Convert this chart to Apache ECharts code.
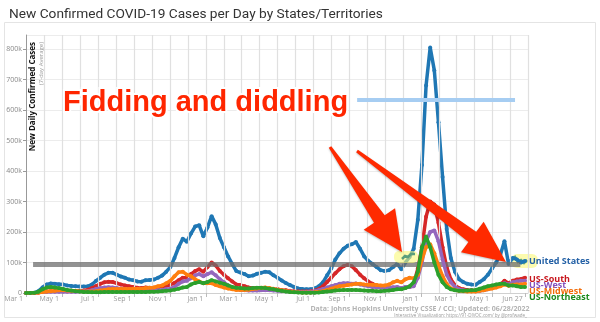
<!DOCTYPE html>
<html><head><meta charset="utf-8">
<script src="https://cdn.jsdelivr.net/npm/echarts@6/dist/echarts.min.js"></script>
<style>html,body{margin:0;padding:0;background:#fff}#c{width:600px;height:322px}</style>
</head><body><div id="c"></div>
<script>
// Weekly points starting Sunday Mar 1 2020 (7-day average, thousands of cases)
const firstWeek = '2020-03-01';
const axisStart = '2020-03-01';
const axisEnd = '2022-07-01';
const tickDates = ['2020-03-01','2020-05-01','2020-07-01','2020-09-01','2020-11-01','2021-01-01','2021-03-01','2021-05-01','2021-07-01','2021-09-01','2021-11-01','2022-01-01','2022-03-01','2022-05-01','2022-06-27'];
const tickLabels = ['Mar 1','May 1','Jul 1','Sep 1','Nov 1','Jan 1','Mar 1','May 1','Jul 1','Sep 1','Nov 1','Jan 1','Mar 1','May 1','Jun 27'];
const seriesNames = ['United States','US-South','US-West','US-Midwest','US-Northeast'];

const usValues = [
  0,0.1,0.6,6,18, 28,31,30,29, 28,25,23,22,21, 21,22,28,40, 50,60,66,66, 60,54,50,44,42, 38,37,42,43, 44,50,57,70, 85,115,150,178,168, 195,218,222,186,
  215,252,225,180,150, 120,95,72,67, 62,55,57,63, 66,70,68,58, 50,41,33,26,20, 15,13,12,12.5, 15,22,35,58, 80,110,130,145,155, 160,167,145,120, 105,95,85,75,72, 75,85,95,78, 100,118,145,240,
  420,680,805,730,560, 380,210,115,70, 45,36,30,28, 27,36,45,60, 80,100,125,170,95, 115,110,100,105
];
const southValues = [
  0,0,0.2,1.5,4, 5,6,6,6, 6,6,6,6.5,7, 8,11,16,23, 30,35,37,36, 32,28,25,22,20, 17,16,18,17, 17,19,21,24, 27,33,42,50,50, 62,72,78,70,
  85,100,90,72,60, 48,38,28,26, 22,18,16,16, 16,16,15,13, 12,10,9,7,5.5, 5,5,5,6, 8,13,22,36, 50,65,78,88,92, 88,75,60,48, 38,30,25,20,17, 15,15,16,14, 18,20,30,80,
  150,250,300,290,230, 150,85,45,26, 16,12,10,9, 8,9,11,15, 18,22,28,40,32, 40,44,46,50
];
const westValues = [
  0,0.05,0.3,1.5,3, 4,4,4,4, 4,4,4,4.5,5, 5.5,6.5,9,13, 16,18,19,18, 16,14,12,10,9, 8,8,8,8, 8,9,10,12, 14,20,30,38,40, 48,58,62,55,
  62,68,58,45,35, 25,18,12,10, 9,8,8,8, 9,9,9,8, 7,6,6,5,4, 3.5,3.5,4,5, 6,9,13,18, 22,26,30,32,32, 30,31,28,25, 22,20,19,18,17, 17,19,20,16, 20,20,22,50,
  100,170,200,205,170, 110,60,35,20, 12,9,7,6, 6,7,9,12, 16,20,25,32,28, 35,38,40,40
];
const midwestValues = [
  0,0,0.1,1,3, 5,6,7,9, 9,8,7,7,6, 5,5,5,6, 8,10,12,13, 13,13,13,13,14, 14,14,16,17, 18,22,25,32, 40,55,68,70,60, 55,45,38,32,
  32,32,26,22,18, 15,12,10,10, 10,11,13,15, 17,18,16,14, 11,9,7,5,3.5, 2.5,2,2,2, 2.5,4,6,10, 14,18,22,24,26, 28,30,30,28, 27,27,26,25,25, 28,35,40,35, 45,50,48,60,
  110,150,160,130,90, 55,30,15,10, 7,6,5,5, 5,7,9,12, 15,18,22,28,24, 27,28,28,30
];
const northeastValues = [
  0,0.1,0.5,4,12, 18,20,18,16, 13,10,8,6,5, 3.5,3,2.5,2.5, 2.5,3,3,3, 3,3,3,3,3, 3,3,3.5,4, 4.5,5,6,7, 8,11,14,18,20, 28,33,36,32,
  36,42,38,34,30, 25,20,17,16, 15,15,16,17, 17,16,14,12, 9,7,5,3.5,2.5, 1.5,1,1,1, 1.2,2,3,5, 6,8,9,10,10, 10,10,9,8, 7,7,6,6,7, 8,10,12,12, 16,22,35,70,
  150,185,150,100,60, 35,20,12,9, 7,7,8,9, 10,14,18,22, 25,28,30,30,25, 25,22,20,20
];

function ts(s){const p=s.split('-').map(Number);return new Date(p[0],p[1]-1,p[2]).getTime();}
const f0 = firstWeek.split('-').map(Number);
const weekDates = usValues.map((_,i)=>new Date(f0[0],f0[1]-1,f0[2]+7*i).getTime());
const pairs = vals => vals.map((v,i)=>[weekDates[i], v]);
const tickTs = tickDates.map(ts);
const labelMap = {}; tickTs.forEach((t,i)=>labelMap[t]=tickLabels[i]);
const monthLines = [];
for (let k=1;k<=28;k++) monthLines.push({xAxis:new Date(2020,2+k,1).getTime()});

const colors = ['#1f77b4','#d62728','#9467bd','#ff7f0e','#2ca02c'];
const labelColors = ['#2461a6','#c8171e','#8551bd','#f26d0a','#1d8a1d'];
const labelOffsets = [0,2,5,8,11];
const allValues = [usValues, southValues, westValues, midwestValues, northeastValues];

const chart = echarts.init(document.getElementById('c'));
const series = [{
  type:'line', data:[], silent:true, z:1,
  markLine:{silent:true, symbol:'none', label:{show:false}, animation:false,
    lineStyle:{color:'#e0e0e0', width:1.2, type:'solid'}, data: monthLines}
}];
allValues.forEach((vals,i)=>{
  series.push({
    name: seriesNames[i], type:'line', data: pairs(vals), z: 3+i,
    showSymbol:true, symbol:'circle', symbolSize:4,
    lineStyle:{color:colors[i], width:3.5}, itemStyle:{color:colors[i]},
    endLabel:{show:true, formatter:seriesNames[i], color:labelColors[i], fontSize:9, fontWeight:'bold',
      fontFamily:'Open Sans', distance:4, offset:[0,labelOffsets[i]]},
    emphasis:{disabled:true}
  });
});
series.push({
  type:'line', data:[], silent:true, z:20,
  markLine:{silent:true, symbol:'none', label:{show:false}, animation:false,
    data:[
      [{coord:[ts('2020-03-13'),93], lineStyle:{color:'rgba(110,110,110,0.75)', width:5, type:'solid'}},{coord:[ts('2022-06-18'),93]}],
      [{coord:[ts('2021-09-14'),633], lineStyle:{color:'#a6cdf2', width:4, type:'solid'}},{coord:[ts('2022-06-09'),633]}]
    ]}
});

function arrow(tail, tip, tailW, shaftW, headW, headLen){
  const dx=tip[0]-tail[0], dy=tip[1]-tail[1], L=Math.hypot(dx,dy);
  const u=[dx/L,dy/L], p=[-u[1],u[0]];
  const b=[tip[0]-u[0]*headLen, tip[1]-u[1]*headLen];
  const pt=(o,w)=>[o[0]+p[0]*w, o[1]+p[1]*w];
  return [pt(tail,tailW), pt(b,shaftW), pt(b,headW), tip, pt(b,-headW), pt(b,-shaftW), pt(tail,-tailW)];
}
const arrowStyle = {fill:'#ff2a00', shadowColor:'rgba(0,0,0,0.25)', shadowBlur:2, shadowOffsetY:1};

chart.setOption({
  animation:false,
  backgroundColor:'#ffffff',
  title:{text:'New Confirmed COVID-19 Cases per Day by States/Territories', left:4, top:3,
    textStyle:{fontSize:13.7, fontWeight:'normal', color:'#333', fontFamily:'Roboto'}},
  grid:{left:26, right:72, top:35, bottom:29},
  xAxis:{type:'value', min:ts(axisStart), max:ts(axisEnd),
    axisLine:{show:true, lineStyle:{color:'#d0d0d0'}},
    axisTick:{show:true, customValues:tickTs, length:4, lineStyle:{color:'#bbb'}},
    axisLabel:{customValues:tickTs, formatter:v=>labelMap[v]||'', align:'right', padding:[0,3,0,0],
      fontSize:7, color:'#999', fontFamily:'Open Sans', margin:2},
    splitLine:{show:false}},
  yAxis:{type:'value', min:0, max:846, interval:100,
    axisLine:{show:true, lineStyle:{color:'#999'}},
    axisTick:{show:true, length:3, lineStyle:{color:'#999'}},
    axisLabel:{formatter:v=>v===0?'0':v+'k', fontSize:7, color:'#888', fontFamily:'Open Sans', margin:4, showMaxLabel:false},
    splitLine:{show:true, lineStyle:{color:'#ececec'}}},
  series: series,
  graphic:[
    {type:'rect', shape:{x:4.5,y:22.5,width:591,height:295}, style:{fill:'none', stroke:'#e4e4e4', lineWidth:1}, z:-1, silent:true},
    {type:'text', x:33, y:42, rotation:Math.PI/2, style:{text:'New Daily Confirmed Cases', fill:'#111', font:'bold 8px "Open Sans"', textAlign:'right', textVerticalAlign:'middle'}, z:50},
    {type:'text', x:41, y:42, rotation:Math.PI/2, style:{text:'(7-day Average)', fill:'#999', font:'6px "Open Sans"', textAlign:'right', textVerticalAlign:'middle'}, z:50},
    {type:'rect', shape:{x:394,y:251,width:24,height:12,r:5}, style:{fill:'rgba(250,248,120,0.6)'}, z:30},
    {type:'rect', shape:{x:511,y:254,width:27,height:14,r:6}, style:{fill:'rgba(250,248,120,0.6)'}, z:2},
    {type:'polyline', shape:{points:[[402,259],[405,256],[408,257],[411,254],[415,254]]}, style:{stroke:'#5b9e7c', lineWidth:2.5, fill:'none'}, z:31},
    {type:'polyline', shape:{points:[[512,260],[515,257],[518,262],[521,260],[524,263],[527,260]]}, style:{stroke:'#5b9e7c', lineWidth:2.5, fill:'none'}, z:2.5},
    {type:'polygon', shape:{points:arrow([330,147],[402,252],1.5,6.5,19,40)}, style:arrowStyle, z:60},
    {type:'polygon', shape:{points:arrow([357,151],[506,262],1.5,6.5,19,42)}, style:arrowStyle, z:60},
    {type:'text', x:63, y:103, style:{text:'Fidding and diddling', fill:'#ff2600', stroke:'#ffffff', lineWidth:4,
      font:'bold 29px "Liberation Sans"', textAlign:'left', textVerticalAlign:'middle',
      shadowColor:'rgba(0,0,0,0.35)', shadowBlur:3, shadowOffsetY:1}, z:70},
    {type:'text', x:420, y:309, style:{text:'Data: Johns Hopkins University CSSE / CCI; Updated: 06/28/2022', fill:'#b3b3b3', font:'bold 7px "Open Sans"', textAlign:'center', textVerticalAlign:'middle'}, z:50},
    {type:'text', x:527, y:316, style:{text:'Interactive Visualization: https://91-DIVOC.com/ by @profwade_', fill:'#999', font:'4.5px "Open Sans"', textAlign:'right', textVerticalAlign:'middle'}, z:50}
  ]
});
</script></body></html>
